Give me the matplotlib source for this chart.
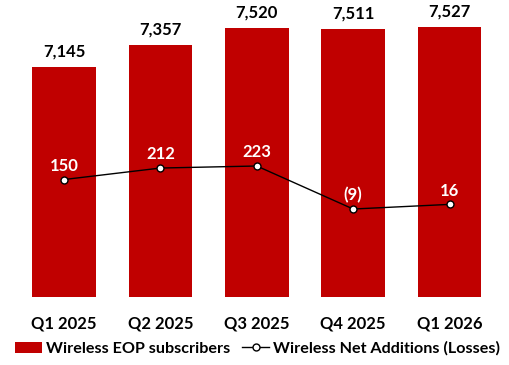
import matplotlib
matplotlib.use("Agg")
import matplotlib.pyplot as plt
import numpy as np

quarters = ["Q1 2025", "Q2 2025", "Q3 2025", "Q4 2025", "Q1 2026"]
subscribers = [7145, 7357, 7520, 7511, 7527]
net_adds = [150, 212, 223, -9, 16]

plt.rcParams['font.family'] = ['Lato', 'DejaVu Sans']
plt.rcParams['font.weight'] = 'bold'

RED = '#C00000'

def fmt_adds(v):
    return '(%d)' % abs(v) if v < 0 else '%d' % v

fig = plt.figure(figsize=(5.1, 3.65), dpi=100)
ax = fig.add_axes([0.031, 0.186, 0.945, 0.787])
x = np.arange(len(quarters))
bars = ax.bar(x, subscribers, width=0.66, color=RED, label='Wireless EOP subscribers')
ax.set_ylim(4948, 7689)
ax.set_xlim(-0.5, 4.5)
for xi, v in zip(x, subscribers):
    ax.annotate('{:,}'.format(v), (xi, v), xytext=(0, 5), textcoords='offset points',
                ha='center', va='bottom', fontsize=12, fontweight='bold', color='black')
ax.set_xticks(x)
ax.set_xticklabels(quarters, fontsize=12, fontweight='bold')
ax.tick_params(axis='x', length=0, pad=13)
ax.set_yticks([])
for s in ax.spines.values():
    s.set_visible(False)

ax2 = ax.twinx()
line, = ax2.plot(x, net_adds, color='black', lw=1, marker='o', markersize=5,
                 markerfacecolor='white', markeredgecolor='black', markeredgewidth=1,
                 label='Wireless Net Additions (Losses)')
ax2.set_ylim(-484, 1065)
ax2.set_yticks([])
for s in ax2.spines.values():
    s.set_visible(False)
for xi, v in zip(x, net_adds):
    ax2.annotate(fmt_adds(v), (xi, v), xytext=(0, 4), textcoords='offset points',
                 ha='center', va='bottom', fontsize=12, fontweight='bold', color='white')

fig.legend(handles=[bars, line], loc='lower center', bbox_to_anchor=(0.505, -0.015), ncol=2,
           frameon=False, handlelength=1.7, handletextpad=0.25, columnspacing=0.7,
           prop={'weight': 'bold', 'size': 11.6})

fig.savefig('out.png', dpi=100)
